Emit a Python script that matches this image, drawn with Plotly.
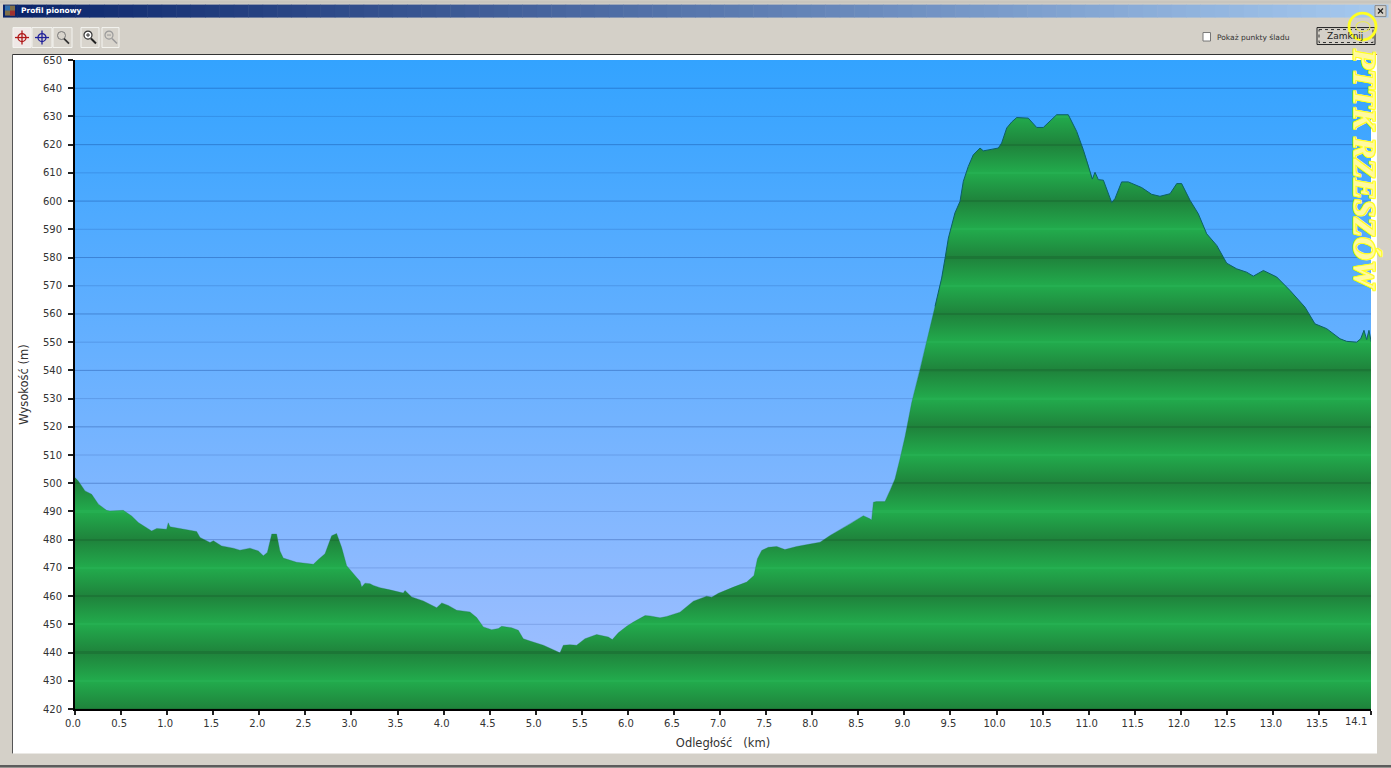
import plotly.graph_objects as go

# ---------- data ----------
km_read = [0,0.036,0.109,0.181,0.254,0.344,0.380,0.525,0.616,0.688,0.833,0.888,0.996,1.014,1.033,1.322,1.359,1.467,1.504,1.594,
           1.721,1.793,1.902,1.993,2.047,2.09,2.138,2.192,2.228,2.264,2.409,2.591,2.645,2.717,2.790,2.844,2.899,2.953,3.062,3.098,
           3.116,3.152,3.207,3.243,3.315,3.424,3.569,3.587,3.66,3.786,3.931,3.986,4.058,4.149,4.293,4.366,4.438,4.529,4.601,4.638,
           4.746,4.819,4.873,4.946,5.091,5.199,5.272,5.308,5.38,5.453,5.543,5.67,5.797,5.841,5.906,5.997,6.069,6.196,6.25,6.359,
           6.431,6.576,6.721,6.866,6.92,6.993,7.156,7.301,7.38,7.417,7.464,7.536,7.627,7.717,7.844,7.989,8.098,8.207,8.424,8.569,
           8.641,8.659,8.678,8.71,8.804,8.859,8.913,8.967,9.022,9.094,9.185,9.275,9.348,9.42,9.457,9.493,9.565,9.62,9.656,9.71,
           9.764,9.837,9.873,9.946,10.036,10.072,10.127,10.181,10.236,10.362,10.453,10.525,10.616,10.67,10.797,10.888,10.96,11.014,11.058,11.087,
           11.123,11.178,11.268,11.304,11.377,11.449,11.594,11.703,11.793,11.902,11.975,12.029,12.12,12.21,12.301,12.41,12.518,12.627,12.736,12.808,
           12.917,13.062,13.207,13.37,13.478,13.605,13.75,13.822,13.931,13.975,14.011,14.04,14.065,14.09]
elevation_m = [502,500.8,497.3,496.1,492.6,490.4,490.2,490.4,488.4,486.1,483.1,484,483.7,486,484.6,482.9,480.8,479,479.6,477.8,
               477,476.3,477,476,474.3,475.5,482,482,476,473.5,472,471.3,473,475,481.4,482.2,477.2,470.8,466.6,465.3,
               463.2,464.6,464.4,463.8,463,462.3,461.1,462,459.7,458.3,455.9,457.6,456.7,455,454.4,452.4,449.1,448.1,448.5,449.3,
               448.8,447.9,444.9,444.1,442.6,441,439.9,442.6,442.8,442.6,444.9,446.4,445.5,444.6,447,449.3,450.8,453.1,453,452.3,
               452.8,454.3,458.2,460,459.6,461,463.2,465,467.3,473.2,476.2,477.3,477.6,476.5,477.6,478.5,479.1,481.5,485.6,488.5,
               487.4,487,493.3,493.5,493.5,497.4,501.5,508.6,516.5,528.5,540.3,552.7,562.7,572.7,579.8,586.9,595.8,599.9,607,612.3,
               616.4,618.8,617.8,618.2,618.8,620.6,625.9,628,629.6,629.4,626.1,626.1,628.8,630.6,630.6,624.7,618.2,612.9,607.8,610.2,
               607.6,607.4,599.5,600.9,606.8,606.8,604.8,602.4,601.7,602.6,606.2,606.2,600.3,595.5,588.4,584.3,578,576,574.8,573.4,
               575.4,573.1,568.3,562.4,556.5,554.8,551.2,550.3,550,551.2,554.2,550.9,554.2,550]
x_tick_vals = [0.0,0.5,1.0,1.5,2.0,2.5,3.0,3.5,4.0,4.5,5.0,5.5,6.0,6.5,7.0,7.5,8.0,8.5,9.0,9.5,10.0,10.5,11.0,11.5,12.0,12.5,13.0,13.5]
x_tick_text = ["%.1f" % v for v in x_tick_vals]
y_levels = list(range(420, 660, 10))

# the readings above used 92 px/km; the axis ticks measure 92.15 px/km
km = [round(d * 92 / 92.15, 3) for d in km_read]
X_END = 1296 / 92.15

# ---------- geometry ----------
L, R, T, B = 75, 1371, 59.5, 709.5
def xp(px): return (px - L) / (R - L)
def yp(py): return (B - py) / (B - T)

def rect(x0, y0, x1, y1, fill, line=None, w=1, layer="below", dash=None):
    return dict(type="rect", xref="paper", yref="paper", x0=xp(x0), x1=xp(x1), y0=yp(y0), y1=yp(y1),
                fillcolor=fill, line=dict(color=line or "rgba(0,0,0,0)", width=w if line else 0, dash=dash), layer=layer)
def seg(x0, y0, x1, y1, color, w=1, layer="above"):
    return dict(type="line", xref="paper", yref="paper", x0=xp(x0), x1=xp(x1), y0=yp(y0), y1=yp(y1),
                line=dict(color=color, width=w), layer=layer)
def circ(cx, cy, r, color, w=1, fill="rgba(0,0,0,0)", layer="above", ry=None):
    ry = ry or r
    return dict(type="circle", xref="paper", yref="paper", x0=xp(cx-r), x1=xp(cx+r), y0=yp(cy+ry), y1=yp(cy-ry),
                line=dict(color=color, width=w), fillcolor=fill, layer=layer)
def label(px, py, text, size=10, color="#333333", anchor="left", **kw):
    return dict(xref="paper", yref="paper", x=xp(px), y=yp(py), text=text, showarrow=False, xanchor=anchor, yanchor="middle",
                font=dict(family=kw.pop("family", "DejaVu Sans"), size=size, color=color), **kw)

shapes, notes = [], []
# window frame
shapes += [rect(0, 0, 1391, 3, "#c8c5be"), rect(0, 765.5, 1391, 768, "#5c5c5c"),
           rect(12.5, 54, 1377, 754, "#ffffff"),
           seg(12.5, 54, 1377, 54, "#333333", 1, "below"), seg(12.5, 54, 12.5, 754, "#555555", 1, "below")]
# title bar gradient
N = 96
for i in range(N):
    t = i / (N - 1)
    c = tuple(int(a + (b - a) * t) for a, b in zip((10, 36, 106), (166, 202, 240)))
    shapes.append(rect(3 + i * 1385 / N, 4, 3 + (i + 1) * 1385 / N + 0.5, 17, "rgb(%d,%d,%d)" % c))
shapes += [rect(5, 5, 15, 15, "#7f6f4a"), rect(5, 5, 10, 10, "#2f6fb0"), rect(10, 10, 15, 15, "#a03030")]
notes.append(label(19, 10, "<b>Profil pionowy</b>", 7.5, "#ffffff"))
# close box
shapes += [rect(1375, 5, 1386, 16, "#d4d0c8", "#8a8a8a"), seg(1378, 8, 1383, 13, "#222222", 1.3), seg(1383, 8, 1378, 13, "#222222", 1.3)]
# toolbar
for x0, x1, fill in [(13, 31, "#efe8e6"), (32, 52, "#d8d4cc"), (53, 72, "#d8d4cc"), (81, 99, "#d8d4cc"), (102, 119, "#d8d4cc")]:
    shapes.append(rect(x0, 27, x1, 47, fill, "#f4f4f0"))
for cx, col in [(22, "#b01818"), (42, "#20209a")]:
    shapes += [circ(cx, 37, 4, col, 1.3), seg(cx - 7, 37, cx + 7, 37, col, 1.3), seg(cx, 30, cx, 44, col, 1.3)]
shapes += [circ(61.5, 35, 4, "#777777", 1), seg(64, 38, 69, 43, "#333333", 1.8),
           circ(88, 34.5, 4, "#333333", 1.2, "#ffffff"), seg(86, 34.5, 90, 34.5, "#333333", 1), seg(88, 32.5, 88, 36.5, "#333333", 1), seg(91, 38, 96, 43, "#222222", 2),
           circ(109, 34.5, 4, "#9a9a9a", 1.2), seg(107, 34.5, 111, 34.5, "#9a9a9a", 1), seg(112, 38, 117, 43, "#9a9a9a", 1.6)]
# checkbox and button
shapes.append(rect(1203, 32, 1210.5, 40.5, "#ffffff", "#777777"))
notes.append(label(1215, 36.5, "Pokaż punkty śladu", 7.5, "#333333"))
shapes += [rect(1317, 27, 1375, 44, "#d4d0c8", "#222222", 1), rect(1319, 29, 1373, 42, "#d4d0c8", "#333333", 1, dash="dot")]
notes.append(label(1345, 35.5, "Zamknij", 9, "#222222", "center"))
# watermark
shapes += [circ(1362.5, 26, 13.5, "#ffff22", 2.8), circ(1363, 26, 7, "#e8e860", 1.2, ry=5)]
notes.append(dict(xref="paper", yref="paper", x=xp(1365), y=yp(169), text="<b><i>PTTK RZESZÓW</i></b>", textangle=90,
                  showarrow=False, xanchor="center", yanchor="middle",
                  font=dict(family="Liberation Serif", size=32, color="#fff9a0",
                            shadow="1px 0 0 #ffff22, -1px 0 0 #ffff22, 0 1px 0 #ffff22, 0 -1px 0 #ffff22, 1px 1px 0 #ffff22, -1px -1px 0 #ffff22, 1px -1px 0 #ffff22, -1px 1px 0 #ffff22")))
# last distance label sits left of its tick
notes.append(dict(xref="x", yref="paper", x=X_END, y=yp(722), text="14.1", showarrow=False, xshift=-15, xanchor="center", yanchor="middle",
                  font=dict(family="DejaVu Sans", size=10, color="#333333")))

# ---------- colour scales ----------
sky = [[0, "rgb(165,192,255)"], [1, "rgb(51,163,255)"]]
DARK, LIGHT = (31, 132, 60), (34, 170, 76)
ground = []
for v in y_levels:
    p = (v - 420) / 230
    even = (v - 420) % 20 == 0
    base = "rgb(%d,%d,%d)" % (DARK if even else LIGHT)
    line = "rgb(28,118,54)" if even else "rgb(37,175,81)"
    e = 0.4 / 230
    if p > 0:
        ground.append([p - e, base])
        ground.append([p - e + 0.0001, line])
    else:
        ground.append([0, line])
    if p < 1:
        ground.append([p + e - 0.0001, line])
        ground.append([p + e, base])
    else:
        ground.append([1, line])

# ---------- traces ----------
fig = go.Figure()
fig.add_trace(go.Scatter(x=[0, X_END], y=[650, 650], mode="none", fill="tozeroy", hoverinfo="skip",
                         fillgradient=dict(type="vertical", colorscale=sky, start=420, stop=650)))
# grid lines sit between the sky and the ground
for v in y_levels[1:-1]:
    even = (v - 420) % 20 == 0
    fig.add_trace(go.Scatter(x=[0, X_END], y=[v, v], mode="lines", hoverinfo="skip",
                             line=dict(color="rgba(0,40,120,0.30)" if even else "rgba(0,40,120,0.16)", width=1)))
fig.add_trace(go.Scatter(x=km, y=elevation_m, mode="none", fill="tozeroy",
                         fillgradient=dict(type="vertical", colorscale=ground, start=420, stop=650)))
split = next(i for i, k in enumerate(km_read) if k >= 9.3)
fig.add_trace(go.Scatter(x=km[split:], y=elevation_m[split:], mode="lines", line=dict(color="#0c5f66", width=1)))
fig.add_trace(go.Scatter(x=km[:split + 1], y=elevation_m[:split + 1], mode="lines", line=dict(color="rgba(30,120,80,0.3)", width=1)))

axis_font = dict(family="DejaVu Sans", size=10, color="#333333")
fig.update_layout(
    width=1391, height=768, margin=dict(l=L, r=1391 - R, t=T, b=768 - B), autosize=False,
    paper_bgcolor="#d4d0c8", plot_bgcolor="#ffffff", showlegend=False, shapes=shapes, annotations=notes,
    xaxis=dict(range=[0, X_END], tickmode="array", tickvals=x_tick_vals + [X_END], ticktext=x_tick_text + [""],
               ticks="outside", ticklen=4, tickwidth=1.5, tickcolor="#222222", showgrid=False, zeroline=False,
               showline=True, linecolor="#000000", linewidth=1.5, tickfont=axis_font, ticklabelshift=-2,
               title=dict(text="Odległość \u00a0 (km)", font=dict(family="DejaVu Sans", size=11.5, color="#333333"), standoff=11)),
    yaxis=dict(range=[420, 650], tickmode="array", tickvals=y_levels, ticktext=[str(v) for v in y_levels],
               ticks="outside", ticklen=5, tickwidth=1.5, tickcolor="#222222", showgrid=False, zeroline=False,
               showline=True, linecolor="#000000", linewidth=2, tickfont=axis_font, ticklabelstandoff=4,
               title=dict(text="Wysokość (m)", font=dict(family="DejaVu Sans", size=11.5, color="#333333"), standoff=12)),
)
fig.write_html("out.html", config=dict(displayModeBar=False),
               post_script="document.body.style.margin='0';document.body.style.overflow='hidden';")
